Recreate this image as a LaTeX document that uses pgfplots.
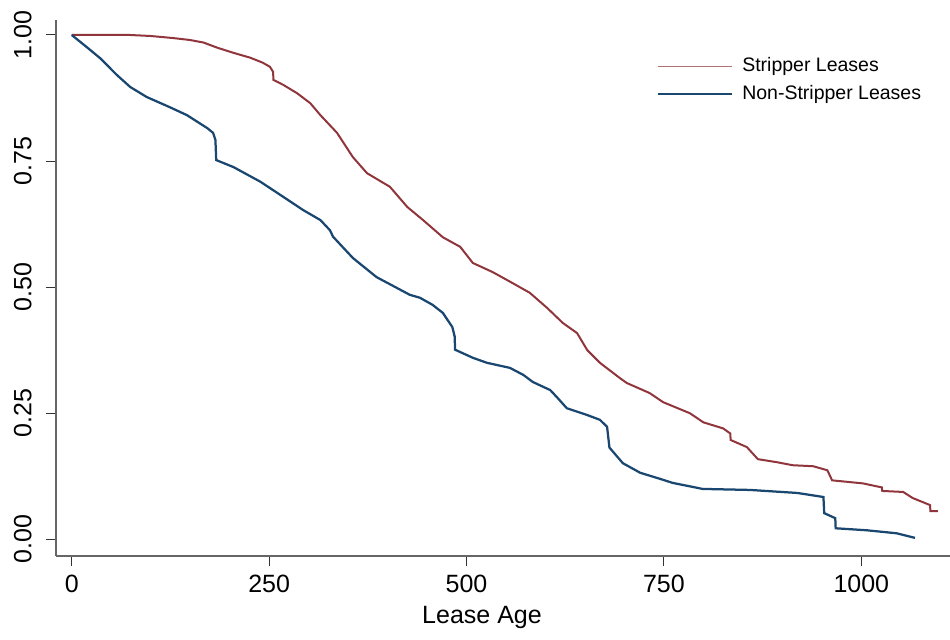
\documentclass[border=0pt]{standalone}
\usepackage{fontspec}
\setmainfont{Liberation Sans}
\usepackage{pgfplots}
\pgfplotsset{compat=1.18}
\definecolor{smaroon}{RGB}{144,53,59}
\definecolor{snavy}{RGB}{26,71,111}
\begin{document}
\begin{tikzpicture}
\begin{axis}[
  scale only axis,
  width=357.6pt, height=214.4pt,
  at={(0,0)}, anchor=south west,
  xmin=-19.9, xmax=1112.3,
  ymin=-0.033, ymax=1.0297,
  axis x line*=bottom, axis y line*=left,
  axis line style={draw=black!60, line width=0.6pt, -},
  xtick={0,250,500,750,1000},
  xticklabels={0,250,500,750,1000},
  ytick={0,0.25,0.5,0.75,1},
  yticklabels={0.00,0.25,0.50,0.75,1.00},
  tick align=outside,
  major tick length=4pt,
  tick style={draw=black!80, line width=0.4pt},
  /pgf/number format/assume math mode=true,
  ticklabel style={font=\fontsize{10}{12}\selectfont},
  yticklabel style={rotate=90, anchor=south, inner sep=0pt},
  yticklabel shift=5.6pt,
  xticklabel style={inner sep=0pt, anchor=north, yshift=-3.5pt},
  xlabel={Lease Age},
  xlabel style={font=\fontsize{10}{12}\selectfont, at={(axis description cs:0.4765,0)}, anchor=base, yshift=-26.8pt},
  legend style={draw=none, fill=none, at={(axis description cs:0.672,0.94)}, anchor=north west,
    font=\fontsize{7.8}{9}\selectfont, row sep=0pt, column sep=1.6pt, inner sep=0pt},
  legend cell align=left,
  legend image code/.code={\draw[#1] (0pt,0pt) -- (29.6pt,0pt);},
]
\addplot[color=smaroon, line width=0.8pt, forget plot] coordinates {
(0,1.0) (74,1.0) (100,0.998) (128,0.994) (150,0.990) (167,0.985) (184,0.975)
(204,0.965) (226,0.955) (242,0.945) (251,0.937) (255,0.927) (255.5,0.911)
(268,0.901) (285,0.885) (302,0.865) (315,0.841) (336,0.806) (356,0.758)
(374,0.726) (403,0.699) (425,0.659) (445,0.633) (470,0.599) (492,0.580)
(508,0.548) (533,0.530) (555,0.511) (580,0.489) (602,0.459) (622,0.429)
(640,0.409) (653,0.375) (669,0.350) (694,0.320) (703,0.310) (732,0.290)
(749,0.272) (783,0.250) (800,0.232) (825,0.220) (834,0.210) (834.5,0.197)
(855,0.183) (869,0.159) (893,0.153) (913,0.147) (939,0.145) (957,0.137)
(963,0.117) (1002,0.111) (1026,0.103) (1026.5,0.096) (1053,0.094) (1065,0.082)
(1087,0.068) (1087.5,0.056) (1097,0.056)
};
\addplot[color=snavy, line width=0.9pt, forget plot] coordinates {
(0,1.0) (19,0.976) (36,0.954) (57,0.921) (74,0.897) (95,0.877) (124,0.857)
(146,0.841) (172,0.815) (179,0.806) (182,0.792) (183,0.752) (205,0.738)
(239,0.709) (268,0.679) (293,0.653) (315,0.633) (327,0.613) (331,0.600)
(356,0.558) (386,0.520) (428,0.485) (441,0.479) (457,0.465) (470,0.449)
(482,0.421) (485,0.402) (485.5,0.376) (508,0.360) (526,0.350) (555,0.340)
(572,0.326) (584,0.312) (606,0.296) (615,0.281) (627,0.260) (652,0.247)
(669,0.237) (678,0.223) (681,0.182) (698,0.151) (720,0.132) (745,0.120)
(761,0.112) (799,0.100) (859,0.098) (919,0.092) (952,0.084) (953,0.052)
(967,0.042) (967.5,0.022) (1007,0.018) (1045,0.012) (1068,0.003)
};
\addlegendimage{color=smaroon!70, line width=0.4pt}
\addlegendentry{Stripper Leases}
\addlegendimage{color=snavy, line width=0.8pt}
\addlegendentry{Non-Stripper Leases}
\end{axis}
\pgfresetboundingbox
\path[use as bounding box] (-22.4pt,-33.2pt) rectangle (357.6pt,222.4pt);
\end{tikzpicture}
\end{document}
